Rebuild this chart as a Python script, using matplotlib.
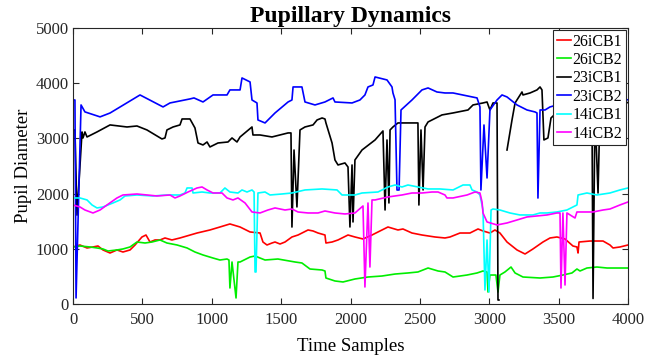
import numpy as np
import matplotlib
matplotlib.use("Agg")
import matplotlib.pyplot as plt

plt.rcParams['font.family'] = ['Liberation Serif', 'DejaVu Serif']

# ---------------- data ----------------
labels = ["26iCB1", "26iCB2", "23iCB1", "23iCB2", "14iCB1", "14iCB2"]
colors = ["#ff0000", "#00ee00", "#000000", "#0000ff", "#00ffff", "#ff00ff"]

x_26iCB1 = [0, 50, 101, 144, 180, 216, 267, 317, 360, 411, 447, 497, 526, 555, 591, 627, 663, 713, 771, 894,
            987, 1059, 1131, 1204, 1276, 1348, 1369, 1398, 1434, 1456, 1492, 1528, 1578, 1622, 1694, 1730, 1766,
            1816, 1823, 1867, 1910, 1982, 2032, 2090, 2155, 2227, 2270, 2342, 2378, 2443, 2515, 2609, 2681, 2717,
            2789, 2861, 2919, 2955, 3005, 3041, 3077, 3128, 3200, 3258, 3315, 3387, 3438, 3488, 3546, 3603, 3632,
            3640, 3647, 3726, 3820, 3870, 3892, 3942, 4000]
y_26iCB1 = [1033, 1069, 1015, 1033, 1051, 979, 924, 979, 942, 979, 1069, 1214, 1250, 1123, 1160, 1160, 1196, 1160,
            1196, 1286, 1341, 1395, 1450, 1395, 1305, 1286, 1123, 1069, 1105, 1123, 1087, 1123, 1214, 1250, 1341,
            1323, 1286, 1250, 1105, 1123, 1160, 1250, 1214, 1178, 1250, 1341, 1395, 1341, 1359, 1286, 1250, 1214,
            1196, 1214, 1286, 1286, 1359, 1323, 1286, 1341, 1286, 1123, 979, 906, 997, 1123, 1196, 1214, 1178,
            1051, 1033, 924, 1123, 1141, 1141, 1069, 1015, 1033, 1069]

x_26iCB2 = [0, 50, 123, 173, 216, 252, 317, 360, 411, 461, 519, 569, 627, 677, 750, 822, 879, 937, 1009, 1059,
            1110, 1124, 1131, 1146, 1175, 1189, 1204, 1276, 1312, 1348, 1384, 1477, 1600, 1650, 1708, 1795, 1816,
            1823, 1888, 1946, 2032, 2126, 2227, 2321, 2414, 2486, 2559, 2631, 2681, 2739, 2840, 2912, 2955, 2984,
            2991, 3005, 3048, 3063, 3077, 3113, 3157, 3186, 3243, 3366, 3459, 3531, 3596, 3632, 3654, 3704, 3776,
            3849, 3942, 4000]
y_26iCB2 = [1033, 1051, 1033, 1015, 997, 960, 979, 997, 1033, 1123, 1105, 1123, 1160, 1105, 1069, 1015, 942, 888,
            833, 797, 815, 797, 290, 761, 109, 761, 761, 851, 870, 833, 797, 815, 761, 743, 634, 616, 598, 471, 417,
            399, 453, 489, 507, 543, 562, 580, 652, 598, 580, 489, 525, 562, 598, 580, 217, 525, 525, 217, 525, 580,
            670, 562, 489, 471, 489, 525, 562, 634, 598, 652, 670, 652, 652, 652]

x_23iCB1 = [0, 14, 29, 65, 72, 86, 101, 173, 267, 389, 461, 533, 641, 663, 677, 721, 771, 786, 843, 879, 901, 937,
            966, 987, 1045, 1117, 1146, 1182, 1204, 1290, 1297, 1348, 1434, 1550, 1571, 1578, 1593, 1614, 1636,
            1672, 1730, 1759, 1795, 1816, 1823, 1867, 1888, 1910, 1960, 1982, 1996, 2011, 2018, 2032, 2083, 2177,
            2234, 2249, 2263, 2277, 2285, 2306, 2342, 2486, 2493, 2508, 2523, 2537, 2559, 2659, 2739, 2847, 2883,
            2955, 2984, 3005, 3027, 3056, 3063, 3070, np.nan, 3128, 3164, 3186, 3236, 3243, 3294, 3344, 3366, 3380,
            3394, 3423, 3445, 3500, 3650, 3740, 3748, 3762, 3784, 3798, 3900, 4000]
y_23iCB1 = [3153, 3153, 1610, 3117, 3008, 3117, 3026, 3117, 3244, 3207, 3225, 3153, 2990, 3008, 3153, 3207, 3244,
            3352, 3352, 3189, 2917, 2881, 2935, 2845, 2917, 2935, 3008, 2935, 3026, 3207, 3062, 3062, 3026, 3099,
            3099, 1395, 2790, 1758, 3153, 3207, 3244, 3334, 3370, 3352, 3280, 2917, 2609, 2519, 2555, 2482, 1395,
            2519, 1486, 2609, 2790, 2972, 3135, 1703, 2972, 1830, 3153, 3207, 3280, 3280, 1794, 3153, 2066, 3207,
            3298, 3425, 3461, 3515, 3606, 3642, 3660, 3515, 3642, 3642, 72, 72, np.nan, 2790, 3334, 3642, 3841,
            3787, 3823, 3878, 3932, 3878, 2972, 3008, 3370, 3500, 3600, 3600, 100, 3500, 2011, 3500, 3600, 3650]

x_23iCB2 = [0, 14, 22, 58, 86, 195, 267, 483, 649, 699, 843, 872, 937, 1009, 1110, 1131, 1204, 1218, 1276, 1290,
            1326, 1333, 1384, 1456, 1550, 1578, 1586, 1650, 1672, 1744, 1816, 1874, 1888, 2011, 2068, 2104, 2126,
            2162, 2177, 2263, 2299, 2306, 2321, 2335, 2350, 2364, 2443, 2515, 2559, 2623, 2681, 2739, 2912, 2933,
            2940, 2962, 2984, 3005, 3056, 3092, 3128, 3200, 3272, 3330, 3344, 3351, 3366, 3402, 3438, 3550, 3700,
            3850, 4000]
y_23iCB2 = [3696, 3696, 110, 3606, 3480, 3390, 3460, 3787, 3570, 3642, 3715, 3733, 3660, 3787, 3787, 3878, 3878,
            4095, 4023, 3696, 3642, 3334, 3280, 3461, 3660, 3696, 3932, 3932, 3660, 3606, 3660, 3733, 3660, 3642,
            3696, 3787, 3932, 3968, 4113, 4059, 3932, 3823, 3700, 2065, 2065, 3515, 3696, 3878, 3914, 3841, 3823,
            3823, 3733, 3570, 2065, 3243, 2283, 3515, 3696, 3787, 3751, 3606, 3515, 3479, 3461, 1920, 3515, 3515,
            3570, 3650, 3650, 3700, 3700]

x_14iCB1 = [0, 50, 101, 137, 173, 216, 288, 339, 375, 461, 577, 677, 771, 807, 822, 858, 865, 930, 987, 1059, 1095,
            1131, 1189, 1218, 1254, 1290, 1305, 1312, 1319, 1333, 1384, 1420, 1506, 1578, 1672, 1795, 1903, 1939,
            2032, 2083, 2198, 2270, 2321, 2371, 2414, 2486, 2559, 2645, 2739, 2811, 2861, 2876, 2912, 2933, 2955,
            2969, 2984, 2998, 3013, 3027, 3077, 3149, 3221, 3315, 3366, 3416, 3488, 3560, 3632, 3640, 3704, 3776,
            3870, 3942, 4000]
y_14iCB1 = [1921, 1921, 1885, 1794, 1740, 1758, 1830, 1885, 1957, 1975, 1957, 1975, 1975, 2011, 2102, 2102, 2011,
            2029, 2011, 2011, 2102, 2029, 2011, 2066, 2029, 2066, 2029, 580, 580, 2011, 2029, 1975, 1993, 2011, 2066,
            2084, 2066, 1975, 1975, 2011, 2029, 2120, 2156, 2120, 2156, 2120, 2084, 2084, 2066, 2156, 2156, 2066,
            2029, 1975, 1703, 254, 1160, 217, 1703, 1721, 1703, 1649, 1613, 1613, 1649, 1649, 1667, 1703, 1794,
            1975, 2011, 1975, 2011, 2066, 2102]

x_14iCB2 = [0, 50, 86, 144, 195, 245, 317, 360, 461, 533, 605, 699, 735, 771, 829, 894, 930, 966, 1009, 1074, 1110,
            1153, 1189, 1240, 1290, 1348, 1405, 1456, 1528, 1578, 1622, 1694, 1766, 1816, 1888, 1960, 2032, 2090,
            2104, 2126, 2140, 2155, 2177, 2270, 2371, 2443, 2515, 2587, 2631, 2681, 2695, 2739, 2840, 2897, 2933,
            2948, 2955, 2984, 3056, 3128, 3200, 3272, 3344, 3416, 3488, 3510, 3517, 3531, 3546, 3560, 3618, 3632,
            3704, 3748, 3820, 3870, 3942, 4000]
y_14iCB2 = [1794, 1758, 1703, 1649, 1703, 1794, 1921, 1975, 1993, 1975, 1957, 1975, 1921, 1957, 2029, 2102, 2120,
            2066, 2011, 2011, 1921, 1885, 1921, 1830, 1667, 1649, 1703, 1740, 1703, 1721, 1667, 1649, 1649, 1685,
            1649, 1631, 1649, 1776, 308, 1830, 670, 1885, 1885, 1939, 1975, 2011, 2011, 2029, 2029, 1975, 1921,
            1921, 1975, 2029, 2011, 1848, 1649, 1486, 1432, 1468, 1522, 1577, 1595, 1613, 1649, 1649, 290, 1649,
            344, 1649, 1558, 1667, 1667, 1667, 1703, 1721, 1794, 1848]

series_x = [x_26iCB1, x_26iCB2, x_23iCB1, x_23iCB2, x_14iCB1, x_14iCB2]
series_y = [y_26iCB1, y_26iCB2, y_23iCB1, y_23iCB2, y_14iCB1, y_14iCB2]

xticks = [0, 500, 1000, 1500, 2000, 2500, 3000, 3500, 4000]
yticks = [0, 1000, 2000, 3000, 4000, 5000]

# ---------------- figure ----------------
fig = plt.figure(figsize=(6.71, 3.60), dpi=100)
ax = fig.add_axes([73 / 671, 1 - 304 / 360, 555 / 671, 276 / 360])

for xs, ys, c, lab in zip(series_x, series_y, colors, labels):
    ax.plot(xs, ys, color=c, lw=1.2, label=lab)

ax.set_xlim(0, 4000)
ax.set_ylim(0, 5000)
ax.set_xticks(xticks)
ax.set_yticks(yticks)
ax.tick_params(direction='in', top=True, right=True, length=4, width=0.8,
               labelsize=12, colors='#262626', pad=3)
ax.tick_params(axis='x', pad=6)
for s in ax.spines.values():
    s.set_color('#262626')
    s.set_linewidth(0.8)

ax.set_title("Pupillary Dynamics", fontsize=17, fontweight='bold', pad=4)
ax.set_xlabel("Time Samples", fontsize=13.5, labelpad=7)
ax.set_ylabel("Pupil Diameter", fontsize=13.5, labelpad=3)

leg = ax.legend(loc='upper right', fontsize=11.5, handlelength=0.9, handletextpad=0.1,
                labelspacing=0.15, borderpad=0.2, borderaxespad=0.15, frameon=True,
                fancybox=False, framealpha=1.0, edgecolor='#262626')
leg.get_frame().set_linewidth(0.8)

fig.savefig("out.png", dpi=100)
